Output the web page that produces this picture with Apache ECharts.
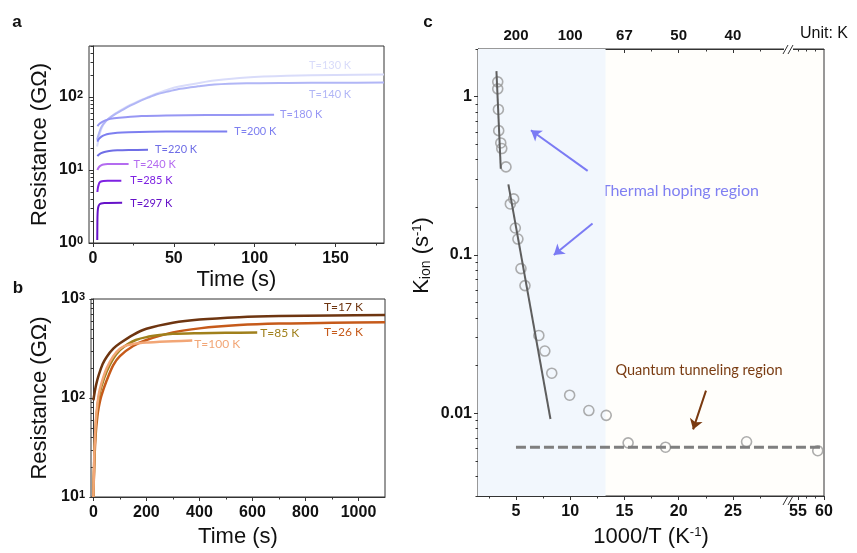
<!DOCTYPE html>
<html>
<head>
<meta charset="utf-8">
<script src="https://cdn.jsdelivr.net/npm/echarts@6/dist/echarts.min.js"></script>
<style>html,body{margin:0;padding:0;background:#fff}#container{width:857px;height:553px}</style>
</head>
<body>
<div id="container"></div>
<script>
var chart = echarts.init(document.getElementById('container'));
var axis_color = '#333';
var tick_font = 'Liberation Sans';
var note_font = 'Lato';

// ---- panel a : resistance vs time, high temperatures
var t297 = [2.6, 2.65, 2.7, 2.8, 3, 3.4, 4, 5, 7, 18];
var r297 = [1.1, 1.5, 2.0, 2.5, 2.9, 3.2, 3.38, 3.47, 3.52, 3.55];
var t285 = [2.7, 3, 3.5, 4, 5, 6.5, 9, 17.5];
var r285 = [5.0, 5.7, 6.3, 6.7, 6.95, 7.05, 7.1, 7.1];
var t240 = [2.7, 3.2, 4, 5, 6.5, 9, 13, 22];
var r240 = [10, 10.6, 11.2, 11.6, 11.9, 12.05, 12.1, 12.1];
var t220 = [2.7, 3.5, 5, 7, 10, 15, 22, 34];
var r220 = [15.5, 16.2, 17.0, 17.7, 18.2, 18.6, 18.8, 18.9];
var t200 = [2.7, 3.5, 5, 7, 10, 15, 22, 35, 55, 83];
var r200 = [24.5, 26.5, 28.5, 30, 31.3, 32.4, 33, 33.5, 33.7, 33.8];
var t180 = [2.7, 4, 6, 9, 13, 20, 30, 45, 70, 112];
var r180 = [40, 43, 46, 49, 51, 53, 55, 56, 56.7, 57];
var t140 = [2.5, 5, 8, 13, 18, 23, 28, 34, 40, 47, 54, 65, 75, 95, 120, 150, 180];
var r140 = [26, 38, 47, 57, 66, 76, 86, 98, 110, 120, 130, 140, 148, 154, 156, 157, 158];
var t130 = [2.5, 5, 8, 13, 18, 23, 28, 34, 40, 47, 54, 65, 75, 95, 120, 150, 180];
var r130 = [21, 36, 47, 58, 68, 78, 88, 100, 113, 128, 140, 155, 168, 185, 195, 201, 204];

// ---- panel b : resistance vs time, low temperatures
var t17 = [0, 5, 10, 20, 35, 50, 75, 100, 150, 200, 300, 400, 550, 700, 900, 1100];
var r17 = [95, 115, 135, 170, 220, 260, 315, 357, 435, 500, 575, 620, 655, 673, 683, 690];
var t26 = [0, 3, 6, 10, 15, 20, 30, 50, 75, 100, 150, 200, 300, 400, 550, 700, 900, 1100];
var r26 = [10, 20, 32, 48, 65, 80, 105, 150, 215, 265, 335, 385, 460, 505, 545, 565, 575, 582];
var t85 = [0, 3, 6, 10, 15, 20, 30, 50, 75, 100, 130, 160, 200, 250, 300, 400, 500, 618];
var r85 = [10, 22, 38, 58, 80, 100, 130, 185, 250, 305, 350, 385, 412, 432, 445, 452, 456, 458];
var t100 = [0, 3, 6, 10, 15, 20, 30, 50, 75, 100, 125, 150, 200, 250, 300, 373];
var r100 = [10, 24, 40, 62, 85, 108, 140, 200, 265, 315, 340, 352, 363, 369, 374, 380];

// ---- panel c : K_ion vs 1000/T
var invT = [3.32, 3.32, 3.38, 3.41, 3.60, 3.69, 4.08, 4.48, 4.79, 4.94, 5.18, 5.46, 5.83, 7.11, 7.66, 8.30, 9.95, 11.72, 13.32, 15.34, 18.79, 26.26, 58.8];
var kIon = [1.24, 1.12, 0.83, 0.61, 0.51, 0.47, 0.36, 0.21, 0.226, 0.148, 0.126, 0.082, 0.064, 0.031, 0.0247, 0.0179, 0.013, 0.0104, 0.0097, 0.0065, 0.0061, 0.0066, 0.0058];
var fitHighX = [3.2, 3.6];
var fitHighY = [1.45, 0.35];
var fitMidX = [4.3, 8.18];
var fitMidY = [0.279, 0.0092];
var tunnelX = [5, 60];
var tunnelY = [0.0061, 0.0061];
var bottomTicks = [5, 10, 15, 20, 25, 55, 60];
var bottomMinor = [2.5, 7.5, 12.5, 17.5, 22.5, 27.5, 56.67, 58.33];
var topTicks = [5, 10, 15, 20, 25];   // labelled as T = 1000/x
var topMinor = [2.5, 7.5, 12.5, 17.5, 22.5, 27.5, 55, 56.67, 58.33];

// broken x axis: 1.5..30 normal, 55..60 squeezed
function xToU(x) { return x <= 30 ? x : 31 + (x - 55) * 0.48; }
function uToX(u) { return u <= 30.5 ? u : 55 + (u - 31) / 0.48; }
function pairs(xs, ys, fx) { return xs.map(function (x, i) { return [fx ? fx(x) : x, ys[i]]; }); }
function logMinor(lo, hi) {
    var out = [];
    for (var p = lo; p < hi; p *= 10) for (var k = 2; k <= 9; k++) out.push(+(k * p).toPrecision(3));
    return out;
}

var labelStyle = { fontFamily: tick_font, fontSize: 16, fontWeight: 'bold', color: '#111' };
var nameStyle = { fontFamily: tick_font, fontSize: 22, color: '#111' };
var powRich = {
    b: { fontFamily: tick_font, fontSize: 16, fontWeight: 'bold', color: '#111' },
    s: { fontFamily: tick_font, fontSize: 11, fontWeight: 'bold', color: '#111', verticalAlign: 'top' }
};
function powLabel(v) { return '{b|10}{s|' + Math.round(Math.log10(v)) + '}'; }

function mainX(grid, min, max, ticks, name, gap) {
    return {
        gridIndex: grid, type: 'value', min: min, max: max, position: 'bottom',
        axisLine: { lineStyle: { color: axis_color } },
        axisTick: { customValues: ticks, length: 4, lineStyle: { color: axis_color } },
        axisLabel: Object.assign({ customValues: ticks, margin: 8, formatter: function (v) { return String(v); } }, labelStyle),
        splitLine: { show: false },
        name: name, nameLocation: 'middle', nameGap: gap, nameTextStyle: nameStyle
    };
}
function minorX(grid, min, max, ticks, pos, inside) {
    return {
        gridIndex: grid, type: 'value', min: min, max: max, position: pos, offset: 0,
        axisLine: { show: false },
        axisTick: { customValues: ticks, length: 2.5, inside: !!inside, lineStyle: { color: axis_color } },
        axisLabel: { show: false }, splitLine: { show: false }
    };
}
function minorY(grid, min, max, ticks) {
    return {
        gridIndex: grid, type: 'log', logBase: 10, min: min, max: max, position: 'left', offset: 0,
        axisLine: { show: false },
        axisTick: { customValues: ticks, length: 2.5, lineStyle: { color: axis_color } },
        axisLabel: { show: false }, splitLine: { show: false }
    };
}
function logY(grid, min, max, ticks, gap) {
    return {
        gridIndex: grid, type: 'log', logBase: 10, min: min, max: max, position: 'left',
        axisLine: { show: true, lineStyle: { color: axis_color } },
        axisTick: { customValues: ticks, length: 4, lineStyle: { color: axis_color } },
        axisLabel: { customValues: ticks, formatter: powLabel, rich: powRich, margin: 6 },
        splitLine: { show: false },
        name: 'Resistance (GΩ)', nameLocation: 'middle', nameGap: gap, nameTextStyle: nameStyle
    };
}

function curve(name, xs, ys, color, xi, off, fs, w) {
    return {
        name: name, type: 'line', xAxisIndex: xi, yAxisIndex: xi, data: pairs(xs, ys),
        smooth: 0.3, symbol: 'none', silent: true,
        lineStyle: { color: color, width: w },
        endLabel: { show: true, formatter: name, color: color, fontFamily: note_font, fontSize: fs, distance: 0, offset: off }
    };
}

var option = {
    animation: false,
    grid: [
        { left: 89, top: 46, width: 295, height: 197, show: true, borderColor: axis_color, borderWidth: 1 },
        { left: 91, top: 299, width: 294, height: 198, show: true, borderColor: axis_color, borderWidth: 1 },
        { left: 478, top: 49, width: 346, height: 451, show: true, borderColor: axis_color, borderWidth: 1, backgroundColor: '#fffefb' }
    ],
    xAxis: [
        mainX(0, -2.5, 180, [0, 50, 100, 150], 'Time (s)', 26),
        minorX(0, -2.5, 180, [25, 75, 125, 175], 'bottom'),
        mainX(1, -9, 1100, [0, 200, 400, 600, 800, 1000], 'Time (s)', 29),
        minorX(1, -9, 1100, [100, 300, 500, 700, 900], 'bottom'),
        Object.assign(mainX(2, 1.5, 33.4, bottomTicks.map(xToU), '1000/T (K{sup|-1})', 30), {
            axisLabel: Object.assign({ customValues: bottomTicks.map(xToU), margin: 8,
                formatter: function (u) { return String(Math.round(uToX(u))); } }, labelStyle),
            nameTextStyle: Object.assign({ rich: { sup: { fontFamily: tick_font, fontSize: 13, verticalAlign: 'top', color: '#111' } } }, nameStyle)
        }),
        minorX(2, 1.5, 33.4, bottomMinor.map(xToU), 'bottom'),
        {
            gridIndex: 2, type: 'value', min: 1.5, max: 33.4, position: 'top', offset: 0,
            axisLine: { lineStyle: { color: axis_color } },
            axisTick: { customValues: topTicks, inside: true, length: 4, lineStyle: { color: axis_color } },
            axisLabel: Object.assign({ customValues: topTicks, margin: 6,
                formatter: function (u) { return String(Math.round(1000 / u)); } }, labelStyle, { fontSize: 15 }),
            splitLine: { show: false }
        },
        minorX(2, 1.5, 33.4, topMinor.map(xToU), 'top', true)
    ],
    yAxis: [
        logY(0, 1, 500, [1, 10, 100], 38),
        minorY(0, 1, 500, logMinor(1, 500).filter(function (v) { return v <= 500; })),
        logY(1, 10, 1000, [10, 100, 1000], 40),
        minorY(1, 10, 1000, logMinor(10, 1000)),
        {
            gridIndex: 2, type: 'log', logBase: 10, min: 0.003, max: 2, position: 'left',
            axisLine: { show: true, lineStyle: { color: axis_color } },
            axisTick: { customValues: [0.01, 0.1, 1], length: 4, lineStyle: { color: axis_color } },
            axisLabel: Object.assign({ customValues: [0.01, 0.1, 1], margin: 6,
                formatter: function (v) { return String(+v.toPrecision(2)); } }, labelStyle),
            splitLine: { show: false },
            name: 'K{sub|ion} (s{sup|-1})', nameLocation: 'middle', nameGap: 45,
            nameTextStyle: Object.assign({ padding: [0, 0, 0, 34], rich: {
                sub: { fontFamily: tick_font, fontSize: 14, verticalAlign: 'bottom', color: '#111' },
                sup: { fontFamily: tick_font, fontSize: 13, verticalAlign: 'top', color: '#111' } } }, nameStyle)
        },
        minorY(2, 0.003, 2, logMinor(0.001, 2).filter(function (v) { return v >= 0.003 && v <= 2; }))
    ],
    series: [
        curve('T=130 K', t130, r130, '#d9dcfa', 0, [-75, -9], 11, 2),
        curve('T=140 K', t140, r140, '#b1b6f6', 0, [-75, 12], 11, 2),
        curve('T=180 K', t180, r180, '#9797f4', 0, [6, 0], 11, 2),
        curve('T=200 K', t200, r200, '#7d7ff0', 0, [7, 0], 11, 2),
        curve('T=220 K', t220, r220, '#6f6ee6', 0, [7, 0], 11, 2),
        curve('T=240 K', t240, r240, '#b46cf0', 0, [5, 0], 11, 2),
        curve('T=285 K', t285, r285, '#7e22e2', 0, [9, 0], 11, 2),
        curve('T=297 K', t297, r297, '#6612c8', 0, [8, 1], 11, 2),

        curve('T=17 K', t17, r17, '#6e3510', 2, [-61, -8], 12, 2.5),
        curve('T=26 K', t26, r26, '#c65a1a', 2, [-61, 10], 12, 2.5),
        curve('T=85 K', t85, r85, '#a0801c', 2, [3, 1], 12, 2.5),
        curve('T=100 K', t100, r100, '#f2a676', 2, [2, 4], 12, 2.5),

        {
            name: 'kion', type: 'scatter', xAxisIndex: 4, yAxisIndex: 4,
            data: pairs(invT, kIon, xToU), symbol: 'circle', symbolSize: 10, silent: true,
            itemStyle: { color: 'rgba(0,0,0,0)', borderColor: '#999', borderWidth: 1.6 },
            markArea: { silent: true, itemStyle: { color: '#f2f7fd' }, data: [[{ xAxis: 1.5 }, { xAxis: 13.26 }]] },
            z: 3
        },
        {
            name: 'fit_high', type: 'line', xAxisIndex: 4, yAxisIndex: 4, data: pairs(fitHighX, fitHighY, xToU),
            symbol: 'none', silent: true, lineStyle: { color: '#5e5e5e', width: 2 }, z: 4
        },
        {
            name: 'fit_mid', type: 'line', xAxisIndex: 4, yAxisIndex: 4, data: pairs(fitMidX, fitMidY, xToU),
            symbol: 'none', silent: true, lineStyle: { color: '#5e5e5e', width: 2 }, z: 4
        },
        {
            name: 'tunnel', type: 'line', xAxisIndex: 4, yAxisIndex: 4, data: pairs(tunnelX, tunnelY, xToU),
            symbol: 'none', silent: true, lineStyle: { color: '#7f7f7f', width: 3, type: [10, 4] }, z: 4,
            markLine: {
                silent: true, symbol: ['none', 'arrow'], symbolSize: 10, label: { show: false },
                data: [
                    [{ coord: [11.61, 0.34], lineStyle: { color: '#7b7bf4', width: 2, type: 'solid' } }, { coord: [6.38, 0.613] }],
                    [{ coord: [12.06, 0.158], lineStyle: { color: '#7b7bf4', width: 2, type: 'solid' } }, { coord: [8.49, 0.1] }],
                    [{ coord: [22.52, 0.0139], lineStyle: { color: '#7a3a10', width: 2, type: 'solid' } }, { coord: [21.33, 0.0079] }]
                ]
            }
        }
    ],
    graphic: [
        { type: 'text', x: 17, y: 22, style: { text: 'a', font: 'bold 17px Liberation Sans', fill: '#111', textAlign: 'center', textVerticalAlign: 'middle' } },
        { type: 'text', x: 18, y: 288, style: { text: 'b', font: 'bold 17px Liberation Sans', fill: '#111', textAlign: 'center', textVerticalAlign: 'middle' } },
        { type: 'text', x: 428, y: 22, style: { text: 'c', font: 'bold 17px Liberation Sans', fill: '#111', textAlign: 'center', textVerticalAlign: 'middle' } },
        { type: 'text', x: 800, y: 34, style: { text: 'Unit: K', font: '16px Liberation Sans', fill: '#111', textAlign: 'left', textVerticalAlign: 'middle' } },
        { type: 'text', x: 680, y: 191, style: { text: 'Thermal hoping region', font: '16px Lato', fill: '#8080f2', textAlign: 'center', textVerticalAlign: 'middle' } },
        { type: 'text', x: 699, y: 370, style: { text: 'Quantum tunneling region', font: '14.5px Lato', fill: '#7a3c12', textAlign: 'center', textVerticalAlign: 'middle' } },
        // axis break marks
        { type: 'rect', shape: { x: 784, y: 47, width: 9, height: 5 }, style: { fill: '#fff' }, z: 100 },
        { type: 'rect', shape: { x: 784, y: 498, width: 9, height: 5 }, style: { fill: '#fff' }, z: 100 },
        { type: 'line', shape: { x1: 783, y1: 54, x2: 788, y2: 45 }, style: { stroke: '#333', lineWidth: 1 }, z: 101 },
        { type: 'line', shape: { x1: 788, y1: 54, x2: 793, y2: 45 }, style: { stroke: '#333', lineWidth: 1 }, z: 101 },
        { type: 'line', shape: { x1: 783, y1: 505, x2: 788, y2: 496 }, style: { stroke: '#333', lineWidth: 1 }, z: 101 },
        { type: 'line', shape: { x1: 788, y1: 505, x2: 793, y2: 496 }, style: { stroke: '#333', lineWidth: 1 }, z: 101 }
    ]
};
chart.setOption(option);
</script>
</body>
</html>
